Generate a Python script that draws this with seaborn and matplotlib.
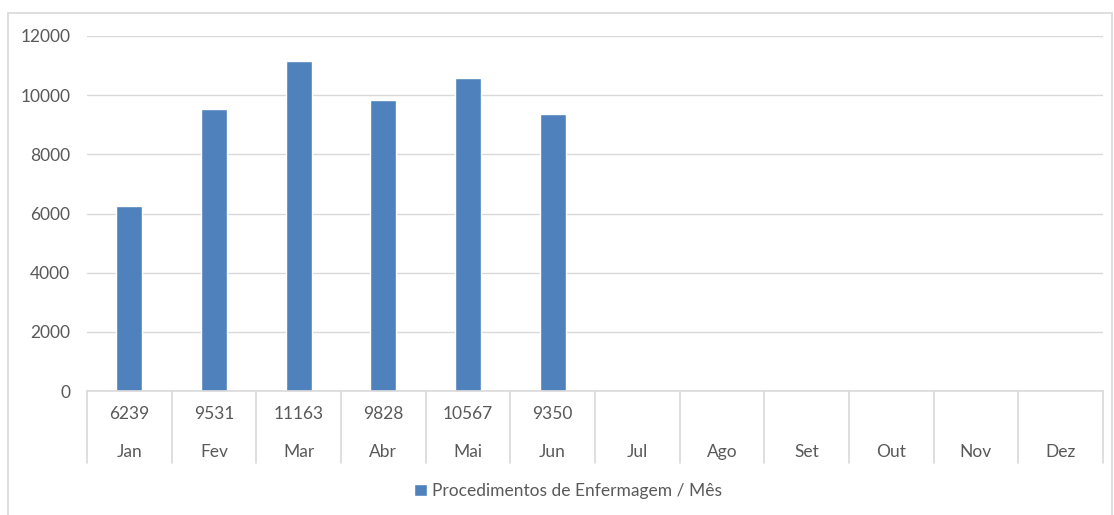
import pandas as pd
import seaborn as sns
import matplotlib.pyplot as plt
from matplotlib.patches import Rectangle
from matplotlib.lines import Line2D

# data
months = ['Jan', 'Fev', 'Mar', 'Abr', 'Mai', 'Jun', 'Jul', 'Ago', 'Set', 'Out', 'Nov', 'Dez']
values = [6239, 9531, 11163, 9828, 10567, 9350, None, None, None, None, None, None]
series_name = 'Procedimentos de Enfermagem / Mês'

df = pd.DataFrame({'Mês': months, 'Valor': values})

sns.set_style('white')
plt.rcParams['font.family'] = ['Lato', 'DejaVu Sans']

text_color = '#595959'
grid_color = '#D9D9D9'
bar_color = '#4F81BD'
fs = 12.5

fig = plt.figure(figsize=(11.14, 5.15), dpi=100)
ax = fig.add_axes([87 / 1114, 1 - 391 / 515, (1103 - 87) / 1114, (391 - 36) / 515])

sns.barplot(data=df, x='Mês', y='Valor', color=bar_color, width=0.31,
            saturation=1, ax=ax, order=months)

ax.set_ylim(0, 12000)
ax.set_xlim(-0.5, len(months) - 0.5)
ax.set_yticks(range(0, 12001, 2000))
ax.yaxis.grid(True, color=grid_color, linewidth=1)
ax.set_axisbelow(True)
for s in ['top', 'right', 'left']:
    ax.spines[s].set_visible(False)
ax.spines['bottom'].set_color(grid_color)
ax.spines['bottom'].set_linewidth(1.2)
ax.set_xlabel('')
ax.set_ylabel('')
ax.set_xticks([])
ax.tick_params(axis='y', length=0, pad=12, labelsize=fs, labelcolor=text_color)

# data table below the axis
trans = ax.get_xaxis_transform()
row_val = -23 / 355
row_month = -61 / 355
table_bottom = -72 / 355
for i in range(len(months) + 1):
    ax.add_line(Line2D([i - 0.5, i - 0.5], [0, table_bottom], transform=trans,
                       color=grid_color, linewidth=1.2, clip_on=False))
for i, (m, v) in enumerate(zip(months, values)):
    if v is not None:
        ax.text(i, row_val, f'{v}', transform=trans, ha='center', va='center',
                fontsize=fs, color=text_color)
    ax.text(i, row_month, m, transform=trans, ha='center', va='center',
            fontsize=fs, color=text_color)

# legend
handle = Rectangle((0, 0), 1, 1, facecolor=bar_color)
fig.legend([handle], [series_name], loc='center', bbox_to_anchor=(0.51, 1 - 491 / 515),
           frameon=False, fontsize=fs, labelcolor=text_color, handlelength=0.7,
           handleheight=0.7, handletextpad=0.3)

# outer chart border
fig.patches.append(Rectangle((8 / 1114, -0.1), 1104 / 1114, 1.1 - 13 / 515,
                             transform=fig.transFigure, fill=False,
                             edgecolor=grid_color, linewidth=1.2))

fig.savefig('out.png', dpi=100)
